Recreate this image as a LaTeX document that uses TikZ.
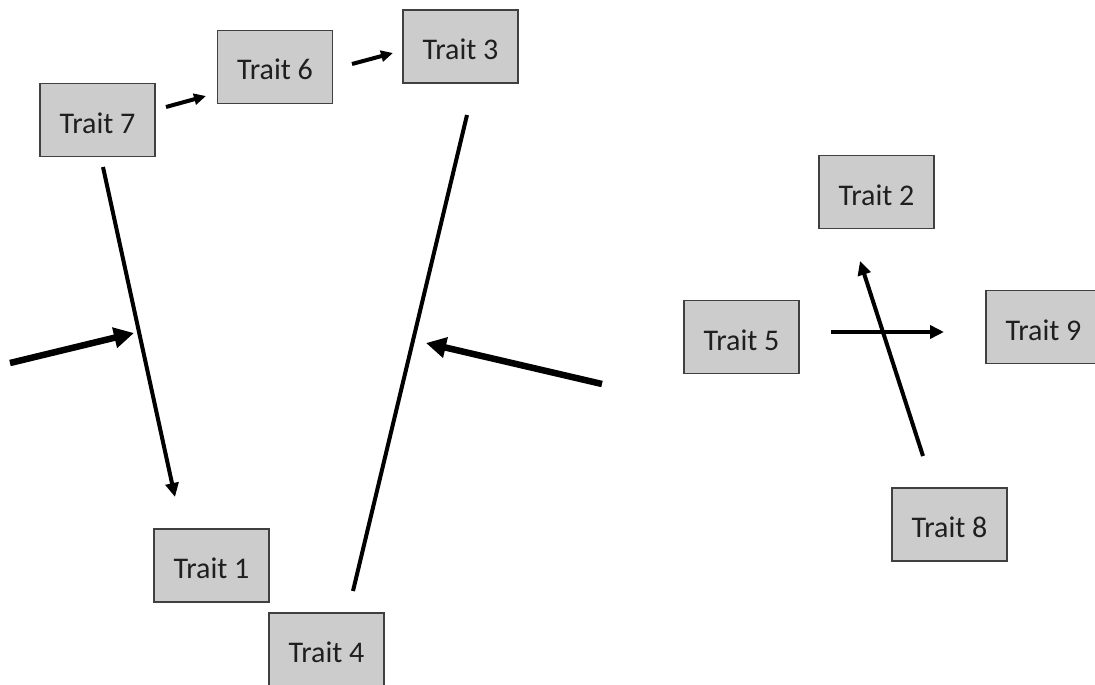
\documentclass[tikz,border=0pt]{standalone}
\usepackage{fontspec}
\setmainfont{Carlito}
\usetikzlibrary{arrows.meta}
\definecolor{boxfill}{HTML}{CCCCCC}
\definecolor{boxline}{HTML}{404040}
\begin{document}
\begin{tikzpicture}[x=1pt,y=-1pt,
  trait/.style={draw=boxline,line width=1.2pt,fill=boxfill,minimum width=115pt,
    minimum height=73pt,inner sep=0pt,text height=26pt,text depth=0pt,
    font=\fontsize{30}{33}\selectfont,text=black!88},
  link/.style={line width=4pt,-{Triangle[length=14pt,width=13pt]}},
  shortlink/.style={line width=4pt,-{Triangle[length=12pt,width=11pt]}},
  bond/.style={line width=4pt},
  heavy/.style={line width=6.5pt,-{Triangle[length=20pt,width=20pt]}}]
\useasboundingbox (0,0) rectangle (1095,685);

% trait boxes
\node[trait] (t7) at (97.5,120) {Trait 7};
\node[trait] (t6) at (275,67) {Trait 6};
\node[trait] (t3) at (460.5,46.5) {Trait 3};
\node[trait] (t2) at (876.5,192) {Trait 2};
\node[trait] (t5) at (741.5,337) {Trait 5};
\node[trait] (t9) at (1043.5,327) {Trait 9};
\node[trait] (t8) at (949.5,524.5) {Trait 8};
\node[trait] (t1) at (211.5,565.5) {Trait 1};
\node[trait] (t4) at (326.5,649.5) {Trait 4};

% connector end points
\coordinate (p76a) at (166,107);
\coordinate (p76b) at (206,96);
\coordinate (p63a) at (352,64);
\coordinate (p63b) at (393,53);
\coordinate (p71a) at (103,167);
\coordinate (p71b) at (175,497);
\coordinate (p43a) at (353,591);
\coordinate (p43b) at (467,115);
\coordinate (inLa) at (10,363);
\coordinate (inLb) at (134,333);
\coordinate (inRa) at (602,384);
\coordinate (inRb) at (426,343);
\coordinate (p59a) at (831,332);
\coordinate (p59b) at (944,332);
\coordinate (p82a) at (923,456);
\coordinate (p82b) at (860,261);

% connectors
\draw[shortlink] (p76a) -- (p76b);
\draw[shortlink] (p63a) -- (p63b);
\draw[link] (p71a) -- (p71b);
\draw[bond] (p43a) -- (p43b);
\draw[heavy] (inLa) -- (inLb);
\draw[heavy] (inRa) -- (inRb);
\draw[link] (p59a) -- (p59b);
\draw[link] (p82a) -- (p82b);
\end{tikzpicture}
\end{document}
